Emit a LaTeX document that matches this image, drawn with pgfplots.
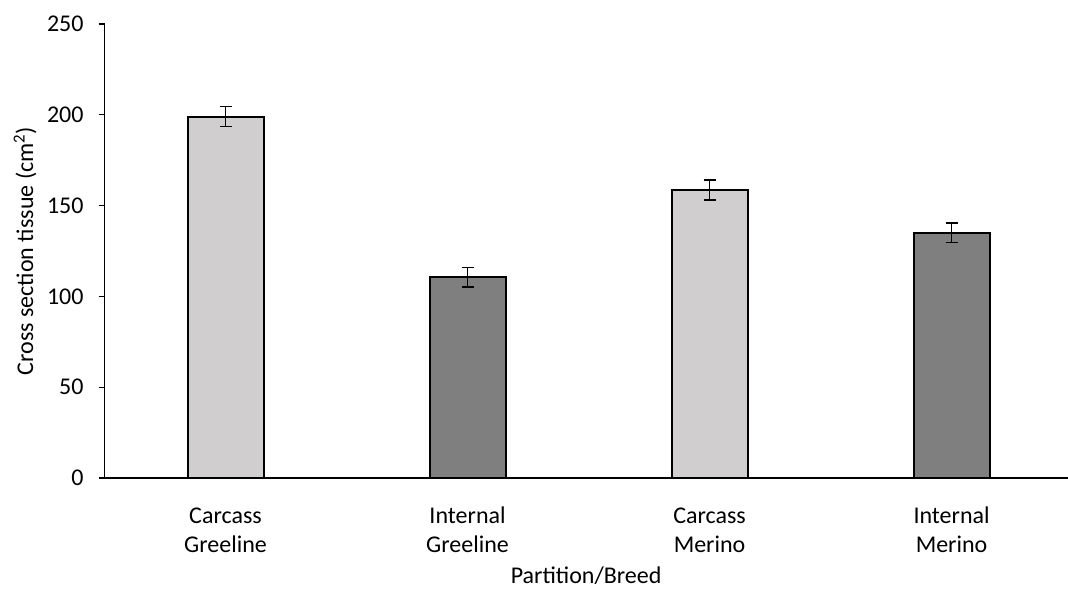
\documentclass[border=0pt]{standalone}
\usepackage{fontspec}
\setmainfont{Carlito}
\usepackage{pgfplots}
\pgfplotsset{compat=1.18}
\definecolor{lightbar}{HTML}{D0CECE}
\definecolor{darkbar}{HTML}{7F7F7F}
\begin{document}
\fontsize{18}{21.6}\selectfont
\begin{tikzpicture}
\begin{axis}[
  scale only axis,
  width=722.4pt, height=340.5pt,
  xmin=-0.5, xmax=3.48,
  ymin=0, ymax=250,
  ytick={0,50,...,250},
  xtick={0,1,2,3},
  xticklabels={Carcass\\Greeline, Internal\\Greeline, Carcass\\Merino, Internal\\Merino},
  xticklabel style={align=center, anchor=base, yshift=-51pt, font=\fontsize{18}{21.75}\selectfont},
  yticklabel style={anchor=east, inner sep=0pt, xshift=-11pt},
  ytick style={draw=black, line width=1pt},
  major tick length=4.5pt,
  tick align=outside,
  x tick style={draw=none},
  axis x line*=bottom,
  axis y line*=left,
  axis line style={line width=1pt, -},
  /pgf/number format/assume math mode=true,
  ylabel={Cross section tissue (cm\textsuperscript{2})},
  ylabel style={at={(rel axis cs:0,0.5)}, anchor=base, yshift=53.6pt},
  xlabel={Partition/Breed},
  xlabel style={at={(rel axis cs:0.5,0)}, anchor=base, yshift=-78.75pt},
  ybar, bar width=57pt,
  clip=false,
]
\addplot[fill=lightbar, draw=black, line width=1.5pt, bar shift=0pt,
  error bars/.cd, y dir=both, y explicit,
  error bar style={line width=1.2pt, black},
  error mark options={rotate=90, mark size=4.5pt, line width=1.2pt, black}]
  coordinates {(0,199) +- (0,5.5) (2,158.6) +- (0,5.5)};
\addplot[fill=darkbar, draw=black, line width=1.5pt, bar shift=0pt,
  error bars/.cd, y dir=both, y explicit,
  error bar style={line width=1.2pt, black},
  error mark options={rotate=90, mark size=4.5pt, line width=1.2pt, black}]
  coordinates {(1,110.6) +- (0,5.3) (3,135.0) +- (0,5.3)};
\end{axis}
\pgfresetboundingbox
\path[use as bounding box] (-78.375pt,-84pt) rectangle (722.6pt,358.5pt);
\end{tikzpicture}
\end{document}
